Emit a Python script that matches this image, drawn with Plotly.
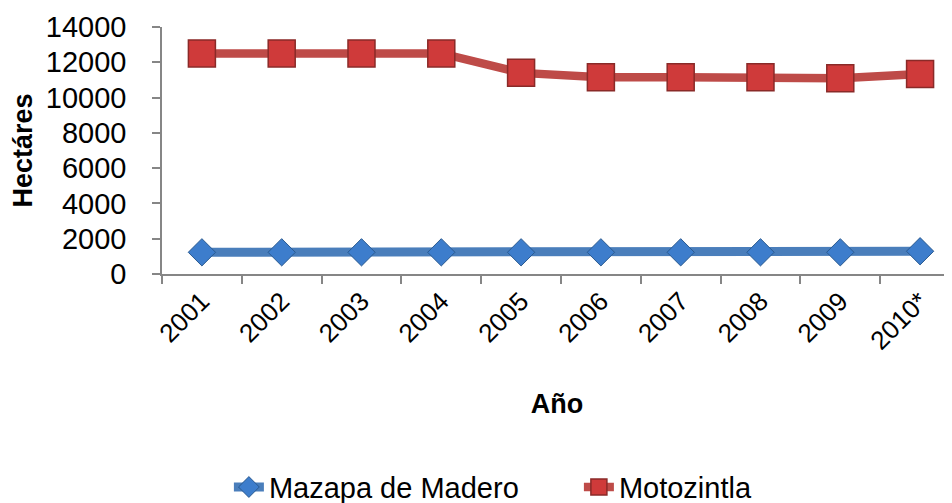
import plotly.graph_objects as go

years = ["2001", "2002", "2003", "2004", "2005", "2006", "2007", "2008", "2009", "2010*"]
mazapa = [1230, 1230, 1230, 1230, 1230, 1230, 1230, 1230, 1230, 1290]
motozintla = [12500, 12500, 12500, 12500, 11400, 11150, 11150, 11150, 11100, 11330]

FONT = "Liberation Sans, Arial, sans-serif"

fig = go.Figure()
fig.add_trace(go.Scatter(
    x=years, y=mazapa, name="Mazapa de Madero", mode="lines+markers",
    line=dict(color="#4A7EBB", width=9),
    marker=dict(symbol="diamond", size=21, color="#3D7DCC",
                line=dict(color="#2A5A90", width=1)),
))
fig.add_trace(go.Scatter(
    x=years, y=motozintla, name="Motozintla", mode="lines+markers",
    line=dict(color="#BE4B48", width=8.5),
    marker=dict(symbol="square", size=27, color="#CF3A3A",
                line=dict(color="#8A2A28", width=1.5)),
))

fig.update_layout(
    width=944, height=495,
    margin=dict(l=154, r=0, t=19, b=229),
    paper_bgcolor="white", plot_bgcolor="white",
    font=dict(family=FONT, color="black"),
    showlegend=True,
    legend=dict(
        orientation="h", xref="container", yref="container",
        x=0.234, y=0.032, xanchor="left", yanchor="middle",
        font=dict(size=29, family=FONT),
        entrywidth=305, entrywidthmode="pixels",
        bgcolor="rgba(0,0,0,0)",
    ),
)
fig.update_xaxes(
    type="category", range=[-0.5, 9.4],
    showline=True, linecolor="#868686", linewidth=1.5,
    ticks="outside", tickson="boundaries", ticklen=8, tickcolor="#868686", tickwidth=1.5,
    tickangle=-45, tickfont=dict(size=26, family=FONT),
    showgrid=False, zeroline=False,
    title=dict(text="<b>Año</b>", font=dict(size=27, family=FONT), standoff=40),
    automargin=False,
)
fig.update_yaxes(
    range=[0, 14000], dtick=2000, tick0=0, tickformat="d",
    showline=True, linecolor="#868686", linewidth=1.5,
    ticks="outside", ticklen=8, tickcolor="#868686", tickwidth=1.5,
    ticklabelstandoff=20,
    tickfont=dict(size=29, family=FONT),
    showgrid=False, zeroline=False,
    title=dict(text="<b>Hectáres</b>", font=dict(size=27, family=FONT), standoff=6),
    automargin=False,
)

fig.write_html("out.html")
